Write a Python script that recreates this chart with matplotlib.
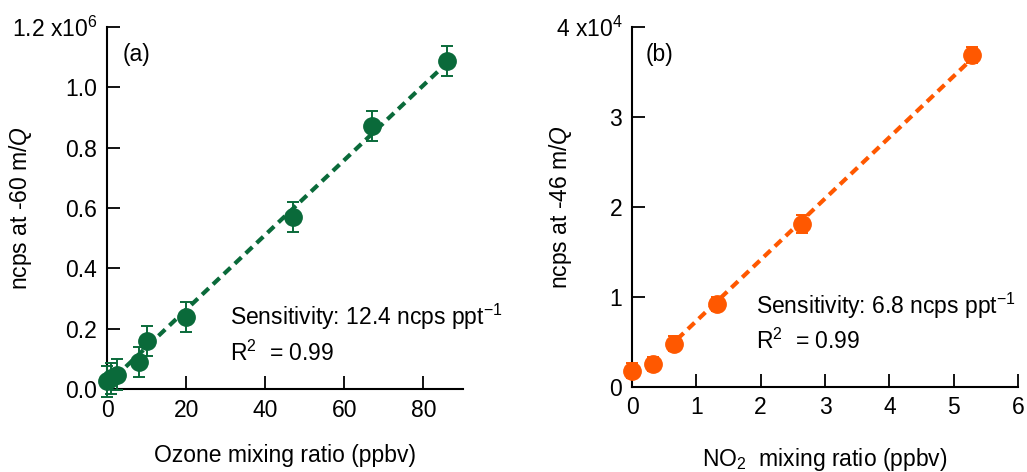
import matplotlib
matplotlib.use("Agg")
import matplotlib.pyplot as plt
import numpy as np

plt.rcParams['font.family'] = ['Liberation Sans', 'DejaVu Sans']
plt.rcParams['mathtext.fontset'] = 'custom'
plt.rcParams['mathtext.rm'] = 'Liberation Sans'
plt.rcParams['mathtext.it'] = 'Liberation Sans:italic'

# panel (a): ozone
o3_x = [0, 1, 2.5, 8, 10, 20, 47, 67, 86]
o3_y = [0.025e6, 0.035e6, 0.048e6, 0.09e6, 0.16e6, 0.24e6, 0.57e6, 0.873e6, 1.087e6]
o3_err = [0.05e6] * 9
o3_slope = 0.0124e6
o3_icpt = 0.015e6
o3_fit_x = [2, 86]

# panel (b): NO2
no2_x = [0, 0.33, 0.65, 1.32, 2.64, 5.29]
no2_y = [0.18e4, 0.25e4, 0.48e4, 0.92e4, 1.81e4, 3.69e4]
no2_err = [0.08e4, 0.08e4, 0.08e4, 0.08e4, 0.1e4, 0.09e4]
no2_slope = 0.68e4
no2_icpt = 0.05e4
no2_fit_x = [0.7, 5.3]

green = '#0a6a3a'
orange = '#ff5800'
fs = 16.5

fig = plt.figure(figsize=(10.27, 4.72), dpi=100)
ax1 = fig.add_axes([0.1042, 0.1758, 0.3466, 0.767])
ax2 = fig.add_axes([0.6154, 0.1807, 0.3758, 0.7627])


def style(ax):
    for s in ['top', 'right']:
        ax.spines[s].set_visible(False)
    for s in ['left', 'bottom']:
        ax.spines[s].set_linewidth(1.5)
    ax.tick_params(direction='in', length=9.5, width=1.3, labelsize=fs)
    ax.tick_params(axis='x', pad=7)
    ax.tick_params(axis='y', pad=7)


def panel(ax, x, y, err, slope, icpt, fx, col):
    fx = np.array(fx)
    ax.plot(fx, slope * fx + icpt, color=col, lw=3, dashes=(2.2, 1.4), zorder=2)
    ax.errorbar(x, y, yerr=err, fmt='o', color=col, ms=12.5, capsize=4.5,
                elinewidth=1.4, capthick=1.4, zorder=3, clip_on=False)
    style(ax)


panel(ax1, o3_x, o3_y, o3_err, o3_slope, o3_icpt, o3_fit_x, green)
ax1.set_xlim(0, 90)
ax1.set_ylim(0, 1.2e6)
ax1.set_xticks([0, 20, 40, 60, 80])
ax1.set_yticks([0, 0.2e6, 0.4e6, 0.6e6, 0.8e6, 1.0e6, 1.2e6])
ax1.set_yticklabels(['0.0', '0.2', '0.4', '0.6', '0.8', '1.0', r'1.2 x10$^{6}$'])
ax1.set_xlabel('Ozone mixing ratio (ppbv)', fontsize=fs)
ax1.xaxis.set_label_coords(0.5, -0.152)
ax1.set_ylabel(r'ncps at -60 m/$\mathit{Q}$', fontsize=fs)
ax1.yaxis.set_label_coords(-0.205, 0.5)
ax1.text(0.045, 0.955, '(a)', transform=ax1.transAxes, fontsize=fs, va='top')
ax1.text(0.345, 0.2, r'Sensitivity: 12.4 ncps ppt$^{-1}$', transform=ax1.transAxes,
         fontsize=fs, va='center')
ax1.text(0.345, 0.1, r'R$^{2}$  = 0.99', transform=ax1.transAxes, fontsize=fs, va='center')

panel(ax2, no2_x, no2_y, no2_err, no2_slope, no2_icpt, no2_fit_x, orange)
ax2.set_xlim(0, 6)
ax2.set_ylim(0, 4e4)
ax2.set_xticks([0, 1, 2, 3, 4, 5, 6])
ax2.set_yticks([0, 1e4, 2e4, 3e4, 4e4])
ax2.set_yticklabels(['0', '1', '2', '3', r'4 x10$^{4}$'])
ax2.set_xlabel(r'NO$_{2}$  mixing ratio (ppbv)', fontsize=fs)
ax2.xaxis.set_label_coords(0.5, -0.165)
ax2.set_ylabel(r'ncps at -46 m/$\mathit{Q}$', fontsize=fs)
ax2.yaxis.set_label_coords(-0.15, 0.5)
ax2.text(0.035, 0.955, '(b)', transform=ax2.transAxes, fontsize=fs, va='top')
ax2.text(0.32, 0.225, r'Sensitivity: 6.8 ncps ppt$^{-1}$', transform=ax2.transAxes,
         fontsize=fs, va='center')
ax2.text(0.32, 0.125, r'R$^{2}$  = 0.99', transform=ax2.transAxes, fontsize=fs, va='center')

fig.savefig('out.png', dpi=100)
